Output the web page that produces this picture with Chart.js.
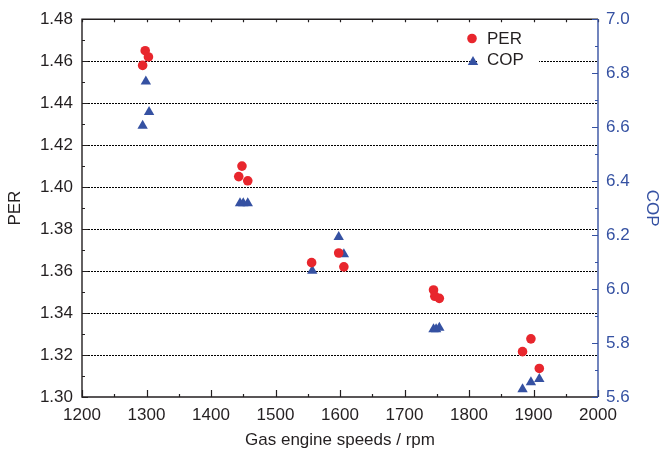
<!DOCTYPE html>
<html><head><meta charset="utf-8">
<script src="https://cdn.jsdelivr.net/npm/chart.js@4"></script>
<style>html,body{margin:0;padding:0;background:#fff}#wrap{width:662px;height:454px}</style>
</head><body><div id="wrap"><canvas id="c" width="662" height="454"></canvas></div>
<script>
const perSpeeds = [1298, 1303, 1294, 1448, 1443, 1457, 1556, 1598, 1606, 1745, 1747, 1754, 1896, 1883, 1909];
const perValues = [1.465, 1.462, 1.458, 1.410, 1.405, 1.403, 1.364, 1.3686, 1.362, 1.351, 1.348, 1.347, 1.3277, 1.3216, 1.3136];
const copSpeeds = [1299, 1304, 1294, 1445, 1450, 1457, 1598, 1606, 1557, 1745, 1749, 1754, 1883, 1896, 1909];
const copValues = [6.769, 6.656, 6.605, 6.318, 6.318, 6.318, 6.193, 6.129, 6.068, 5.851, 5.851, 5.857, 5.629, 5.655, 5.667];
const xTicks = [1200, 1300, 1400, 1500, 1600, 1700, 1800, 1900, 2000];
const perTicks = [1.30, 1.32, 1.34, 1.36, 1.38, 1.40, 1.42, 1.44, 1.46, 1.48];
const copTicks = [5.6, 5.8, 6.0, 6.2, 6.4, 6.6, 6.8, 7.0];

const FONT = "'Liberation Sans', Arial, Helvetica, sans-serif";
const RED = '#e8262d';
const BLUE = '#3551a2';
const INK = '#231f20';

const framePlugin = {
  id: 'frame',
  afterDraw(chart) {
    const {ctx, chartArea: {left, right, top, bottom}, scales: {x, y, y1}} = chart;
    ctx.save();
    ctx.lineWidth = 1.4;
    ctx.strokeStyle = INK;
    ctx.beginPath();
    ctx.moveTo(right, top); ctx.lineTo(left, top); ctx.lineTo(left, bottom); ctx.lineTo(right, bottom);
    ctx.stroke();
    ctx.lineWidth = 1.2;
    ctx.beginPath();
    for (let v = 1200; v <= 2000; v += 50) {
      const px = Math.round(x.getPixelForValue(v)) + 0.5;
      const major = v % 100 === 0;
      ctx.moveTo(px, bottom); ctx.lineTo(px, bottom - (major ? 7 : 3));
      ctx.moveTo(px, top); ctx.lineTo(px, top + 3);
    }
    for (let i = 0; i <= 18; i++) {
      const v = 1.30 + i * 0.01;
      const py = Math.round(y.getPixelForValue(v)) + 0.5;
      ctx.moveTo(left, py); ctx.lineTo(left + (i % 2 === 0 ? 6 : 3), py);
    }
    ctx.stroke();
    // right axis
    ctx.strokeStyle = BLUE;
    ctx.lineWidth = 1.4;
    ctx.beginPath();
    ctx.moveTo(right, top); ctx.lineTo(right, bottom);
    ctx.stroke();
    ctx.lineWidth = 1.2;
    ctx.beginPath();
    for (let i = 0; i <= 14; i++) {
      const v = 5.6 + i * 0.1;
      const py = Math.round(y1.getPixelForValue(v)) + 0.5;
      ctx.moveTo(right, py); ctx.lineTo(right - (i % 2 === 0 ? 6 : 3), py);
    }
    ctx.stroke();
    // legend
    ctx.fillStyle = '#fff';
    ctx.fillRect(477, 24, 62, 48);
    ctx.fillStyle = RED;
    ctx.beginPath(); ctx.arc(472, 38.5, 4.8, 0, Math.PI * 2); ctx.fill();
    ctx.fillStyle = BLUE;
    const r = 6, tx = 473, ty = 62;
    ctx.beginPath();
    ctx.moveTo(tx, ty - r);
    ctx.lineTo(tx + r * Math.sin(2 * Math.PI / 3), ty - r * Math.cos(2 * Math.PI / 3));
    ctx.lineTo(tx + r * Math.sin(4 * Math.PI / 3), ty - r * Math.cos(4 * Math.PI / 3));
    ctx.closePath(); ctx.fill();
    ctx.fillStyle = INK;
    ctx.font = '17px ' + FONT;
    ctx.textBaseline = 'middle';
    ctx.textAlign = 'left';
    ctx.fillText('PER', 487, 39.5);
    ctx.fillText('COP', 487, 60.5);
    ctx.restore();
  }
};

const perData = perSpeeds.map((s, i) => ({x: s, y: perValues[i]}));
const copData = copSpeeds.map((s, i) => ({x: s, y: copValues[i]}));

new Chart(document.getElementById('c'), {
  type: 'scatter',
  data: {
    datasets: [
      {label: 'PER', data: perData, yAxisID: 'y', pointStyle: 'circle', pointRadius: 4.8, pointHoverRadius: 4.8,
       backgroundColor: RED, borderColor: RED, borderWidth: 0},
      {label: 'COP', data: copData, yAxisID: 'y1', pointStyle: 'triangle', pointRadius: 6, pointHoverRadius: 6,
       backgroundColor: BLUE, borderColor: BLUE, borderWidth: 0}
    ]
  },
  options: {
    responsive: false,
    animation: false,
    devicePixelRatio: 1,
    layout: {padding: {top: 14, left: 0, right: 0, bottom: 0}},
    plugins: {legend: {display: false}, tooltip: {enabled: false}},
    scales: {
      x: {
        type: 'linear', position: 'bottom', min: 1200, max: 2000,
        afterBuildTicks(s) { s.ticks = xTicks.map(v => ({value: v})); },
        ticks: {color: INK, font: {family: FONT, size: 17}, padding: 8, maxRotation: 0, autoSkip: false,
                callback: v => String(v)},
        grid: {display: false, drawTicks: false},
        border: {display: false},
        title: {display: true, text: 'Gas engine speeds / rpm', color: INK, font: {family: FONT, size: 17},
                padding: {top: 0, bottom: 3}},
        afterFit(s) { s.height = 57; }
      },
      y: {
        type: 'linear', position: 'left', min: 1.30, max: 1.48,
        afterBuildTicks(s) { s.ticks = perTicks.map(v => ({value: v})); },
        ticks: {color: INK, font: {family: FONT, size: 17}, padding: 9, callback: v => v.toFixed(2)},
        grid: {drawTicks: false, lineWidth: 1,
               color: c => (c.tick && (Math.abs(c.tick.value - 1.30) < 1e-6 || Math.abs(c.tick.value - 1.48) < 1e-6)) ? 'rgba(0,0,0,0)' : '#000'},
        border: {display: false, dash: [2, 1]},
        title: {display: true, text: 'PER', color: INK, font: {family: FONT, size: 17}, padding: {top: 5, bottom: 0}},
        afterFit(s) { s.width = 82; }
      },
      y1: {
        type: 'linear', position: 'right', min: 5.6, max: 7.0,
        afterBuildTicks(s) { s.ticks = copTicks.map(v => ({value: v})); },
        ticks: {color: BLUE, font: {family: FONT, size: 17}, padding: 8, callback: v => v.toFixed(1)},
        grid: {display: false, drawTicks: false},
        border: {display: false},
        title: {display: true, text: 'COP', color: BLUE, font: {family: FONT, size: 17}, padding: {top: 0, bottom: 0}},
        afterFit(s) { s.width = 64; }
      }
    }
  },
  plugins: [framePlugin]
});
</script>
</body></html>
